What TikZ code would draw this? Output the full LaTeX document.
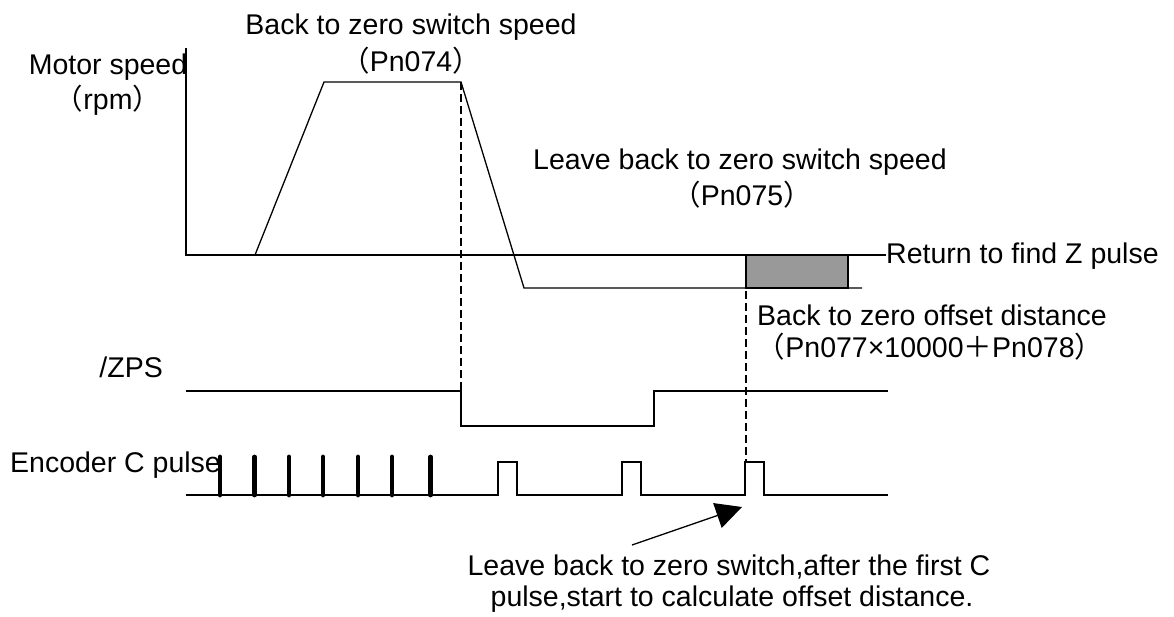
\documentclass[tikz,border=0pt]{standalone}
\usepackage{fontspec}
\setmainfont{Liberation Sans}
\newfontfamily\cjkf{Noto Sans CJK SC}
\usetikzlibrary{arrows.meta}
\newcommand{\flp}{{\cjkf （}}
\newcommand{\frp}{{\cjkf ）}}
\newcommand{\fpl}{{\cjkf ＋}}
\begin{document}
\begin{tikzpicture}[x=1pt,y=-1pt,
  lbl/.style={inner sep=0pt, font=\fontsize{28.5}{34}\selectfont},
  sig/.style={line width=1.3pt, line join=miter},
  guide/.style={line width=2pt, dash pattern=on 8pt off 4pt},
  bar/.style={line width=4.8pt, line cap=round},
  pointer/.style={line width=1.3pt, -{Triangle[length=26pt,width=26pt]}}]
\useasboundingbox (0,0) rectangle (1174,617);
% texts
\node[lbl, anchor=base] (t1) at (411,35) {Back to zero switch speed};
\node[lbl, anchor=base] (t1b) at (411,72) {\flp Pn074\frp};
\node[lbl, anchor=base] (ms) at (108,75) {Motor speed};
\node[lbl, anchor=base] (rpm) at (108,110) {\flp rpm\frp};
\node[lbl, anchor=base west] (t2) at (533,170) {Leave back to zero switch speed};
\node[lbl, anchor=base] (t2b) at (742,206) {\flp Pn075\frp};
\node[lbl, anchor=base west] (rz) at (886,264) {Return to find Z pulse};
\node[lbl, anchor=base west] (off) at (757,325) {Back to zero offset distance};
\node[lbl, anchor=base] (offb) at (930,357) {\flp Pn077×10000\fpl Pn078\frp};
\node[lbl, anchor=base east] (zps) at (163,377) {/ZPS};
\node[lbl, anchor=base west] (enc) at (10,472) {Encoder C pulse};
\node[lbl, anchor=base] (n1) at (729,575) {Leave back to zero switch,after the first C};
\node[lbl, anchor=base] (n2) at (732,606) {pulse,start to calculate offset distance.};
% gray offset box
\draw[sig, fill=gray!80] (746,255) rectangle (848,288);
% speed axes and profile
\draw[sig] (186,48) -- (186,255) -- (886,255);
\draw[sig] (255,255) -- (324,82) -- (461,82) -- (524,288) -- (862,288);
% /ZPS
\draw[sig] (186,391) -- (461,391) -- (461,426) -- (654,426) -- (654,391) -- (888,391);
% encoder C
\draw[sig] (186,495) -- (498,495) -- (498,462) -- (517,462) -- (517,495)
  -- (622,495) -- (622,462) -- (641,462) -- (641,495)
  -- (745,495) -- (745,462) -- (764,462) -- (764,495) -- (888,495);
\foreach \x in {220,254.5,289,323,358,392,430.5} \draw[bar] (\x,457) -- (\x,495);
% guides
\coordinate (g1a) at (461,82);
\coordinate (g1b) at (461,391);
\coordinate (g2a) at (746,255);
\coordinate (g2b) at (746,462);
\draw[guide] (g1a) -- (g1b);
\draw[guide] (g2a) -- (g2b);
% pointer
\coordinate (pa) at (632,545);
\coordinate (pb) at (742,507);
\draw[pointer] (pa) -- (pb);
\end{tikzpicture}
\end{document}
